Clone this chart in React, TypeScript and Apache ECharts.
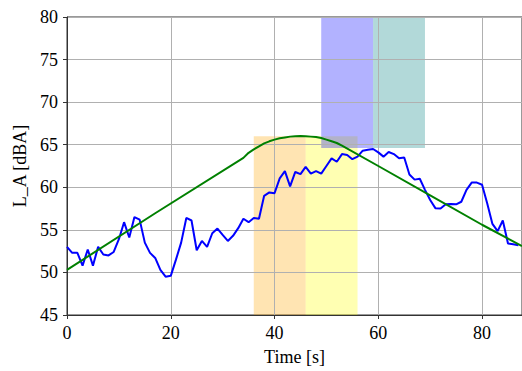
import React, { useEffect, useRef } from "react";
import * as echarts from "echarts";

const timeSeconds: number[] = Array.from({ length: 88 }, (_, i) => i);
const measuredLevel: number[] = [
  53.0, 52.3, 52.3, 50.8, 52.7, 50.8, 53.0, 52.1, 52.0, 52.4,
  53.9, 55.9, 54.1, 56.5, 56.2, 53.5, 52.3, 51.7, 50.3, 49.5,
  49.6, 51.5, 53.5, 56.4, 56.1, 52.6, 53.7, 53.0, 54.6, 55.15,
  54.4, 53.7, 54.3, 55.2, 56.3, 55.9, 56.4, 56.3, 59.0, 59.4,
  59.3, 61.05, 61.9, 60.1, 61.8, 61.55, 62.4, 61.6, 61.9, 61.6,
  62.5, 63.4, 63.0, 63.9, 63.8, 63.3, 63.6, 64.3, 64.4, 64.5,
  64.1, 63.6, 64.15, 63.9, 63.4, 63.5, 61.5, 60.9, 61.0, 59.7,
  58.5, 57.55, 57.5, 58.0, 58.05, 58.0, 58.3, 59.7, 60.55, 60.55,
  60.3, 58.1, 55.7, 54.85, 56.1, 53.4, 53.3, 53.2,
];

const modelTime: number[] = [
  0, 17, 34, 35, 36, 37, 38, 39, 40, 41, 42, 43, 44, 45, 46, 47, 48, 49,
  50, 51, 52, 53, 60, 70, 80, 87.7,
];
const modelLevel: number[] = [
  50.3, 56.95, 63.45, 64.05, 64.45, 64.8, 65.15, 65.4, 65.6, 65.75, 65.85, 65.95, 66.0, 66.02, 66.0, 65.95, 65.9, 65.78,
  65.6, 65.4, 65.2, 64.9, 62.5, 59.05, 55.6, 53.1,
];

const spanX0: number[] = [36, 46, 49, 59];
const spanX1: number[] = [46, 56, 59, 69];
const spanY0: number[] = [45, 45, 64.6, 64.6];
const spanY1: number[] = [66, 66, 80, 80];
const spanColors: string[] = [
  "rgba(255,165,0,0.3)",
  "rgba(255,255,0,0.3)",
  "rgba(0,0,255,0.3)",
  "rgba(0,128,128,0.3)",
];

const yTicks = { min: 45, max: 80, interval: 5 };
const xTicks = { min: 0, max: 87.7, interval: 20 };

const FONT = "Liberation Serif";

export default function App() {
  const ref = useRef<HTMLDivElement>(null);
  useEffect(() => {
    if (!ref.current) return;
    const chart = echarts.init(ref.current, undefined, { renderer: "svg" });
    const spanData = spanX0.map((x0, i) => [x0, spanX1[i], spanY0[i], spanY1[i], i]);
    const labelStyle = { fontFamily: FONT, fontSize: 18, color: "#000" };
    chart.setOption({
      animation: false,
      backgroundColor: "#ffffff",
      textStyle: { fontFamily: FONT, fontSize: 18, color: "#000" },
      grid: {
        left: 67,
        top: 17,
        right: -1,
        bottom: 53,
        show: true,
        borderColor: "#333",
        borderWidth: 1,
        backgroundColor: "transparent",
      },
      xAxis: {
        type: "value",
        min: xTicks.min,
        max: xTicks.max,
        interval: xTicks.interval,
        z: 1.5,
        name: "Time [s]",
        nameLocation: "middle",
        nameGap: 33,
        nameTextStyle: labelStyle,
        axisLine: { show: true, lineStyle: { color: "#333", width: 1 } },
        axisTick: { show: true, length: 4, lineStyle: { color: "#333" } },
        axisLabel: {
          ...labelStyle,
          margin: 9,
          showMaxLabel: false,
          formatter: (v: number) => (v % 20 === 0 ? String(v) : ""),
        },
        splitLine: { show: true, lineStyle: { color: "#b0b0b0", width: 1 } },
      },
      yAxis: {
        type: "value",
        min: yTicks.min,
        max: yTicks.max,
        interval: yTicks.interval,
        z: 1.5,
        name: "L_A [dBA]",
        nameLocation: "middle",
        nameGap: 35,
        nameTextStyle: labelStyle,
        axisLine: { show: true, lineStyle: { color: "#333", width: 1 } },
        axisTick: { show: true, length: 4, lineStyle: { color: "#333" } },
        axisLabel: { ...labelStyle, margin: 9 },
        splitLine: { show: true, lineStyle: { color: "#b0b0b0", width: 1 } },
      },
      series: [
        {
          type: "custom",
          z: 1,
          silent: true,
          data: spanData,
          encode: { x: [0, 1], y: [2, 3] },
          renderItem: (params: any, api: any) => {
            const p0 = api.coord([api.value(0), api.value(3)]);
            const p1 = api.coord([api.value(1), api.value(2)]);
            const idx = api.value(4);
            return {
              type: "rect",
              shape: { x: p0[0], y: p0[1], width: p1[0] - p0[0], height: p1[1] - p0[1] },
              style: { fill: spanColors[idx] },
            };
          },
        },
        {
          type: "line",
          z: 3,
          data: timeSeconds.map((t, i) => [t, measuredLevel[i]]),
          showSymbol: false,
          lineStyle: { color: "#0000ff", width: 2 },
          itemStyle: { color: "#0000ff" },
        },
        {
          type: "line",
          z: 3,
          data: modelTime.map((t, i) => [t, modelLevel[i]]),
          showSymbol: false,
          lineStyle: { color: "#008000", width: 2 },
          itemStyle: { color: "#008000" },
        },
      ],
    });
    return () => chart.dispose();
  }, []);
  return <div ref={ref} style={{ position: "fixed", left: 0, top: 0, width: 522, height: 371 }} />;
}
